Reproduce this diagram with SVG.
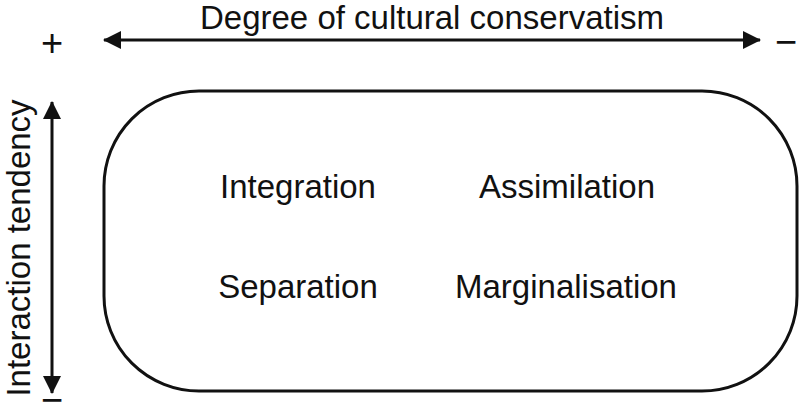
<svg xmlns="http://www.w3.org/2000/svg" width="805" height="404" viewBox="0 0 805 404">
<defs>
<style>
text{font-family:"Liberation Sans",Arial,sans-serif;fill:#111;}
.lbl{font-size:33px;text-anchor:middle;}
.ax{stroke:#111;stroke-width:3;fill:none;}
.sign{font-size:38px;text-anchor:middle;}
</style>
<marker id="ah" viewBox="0 0 18 18" refX="17" refY="9" markerWidth="18" markerHeight="18" markerUnits="userSpaceOnUse" orient="auto-start-reverse">
<path d="M0,0 L18,9 L0,18 Z" fill="#111"/>
</marker>
</defs>
<rect width="805" height="404" fill="#fff"/>
<g id="connectors">
<line class="ax" x1="104" y1="40" x2="760" y2="40" marker-start="url(#ah)" marker-end="url(#ah)"/>
<line class="ax" x1="52" y1="102" x2="52" y2="393" marker-start="url(#ah)" marker-end="url(#ah)"/>
</g>
<g id="axis-labels">
<text class="lbl" x="432" y="29">Degree of cultural conservatism</text>
<text class="sign" x="52" y="56">+</text>
<text class="sign" x="786" y="55">−</text>
<text class="sign" x="52" y="413">−</text>
<text class="lbl" transform="translate(30,248) rotate(-90)">Interaction tendency</text>
</g>
<g id="frame">
<rect x="104" y="91" width="693" height="300" rx="95" ry="95" fill="none" stroke="#111" stroke-width="3"/>
</g>
<g id="integration"><text class="lbl" x="298" y="198">Integration</text></g>
<g id="assimilation"><text class="lbl" x="567" y="198">Assimilation</text></g>
<g id="separation"><text class="lbl" x="298" y="298">Separation</text></g>
<g id="marginalisation"><text class="lbl" x="566" y="298">Marginalisation</text></g>
</svg>
